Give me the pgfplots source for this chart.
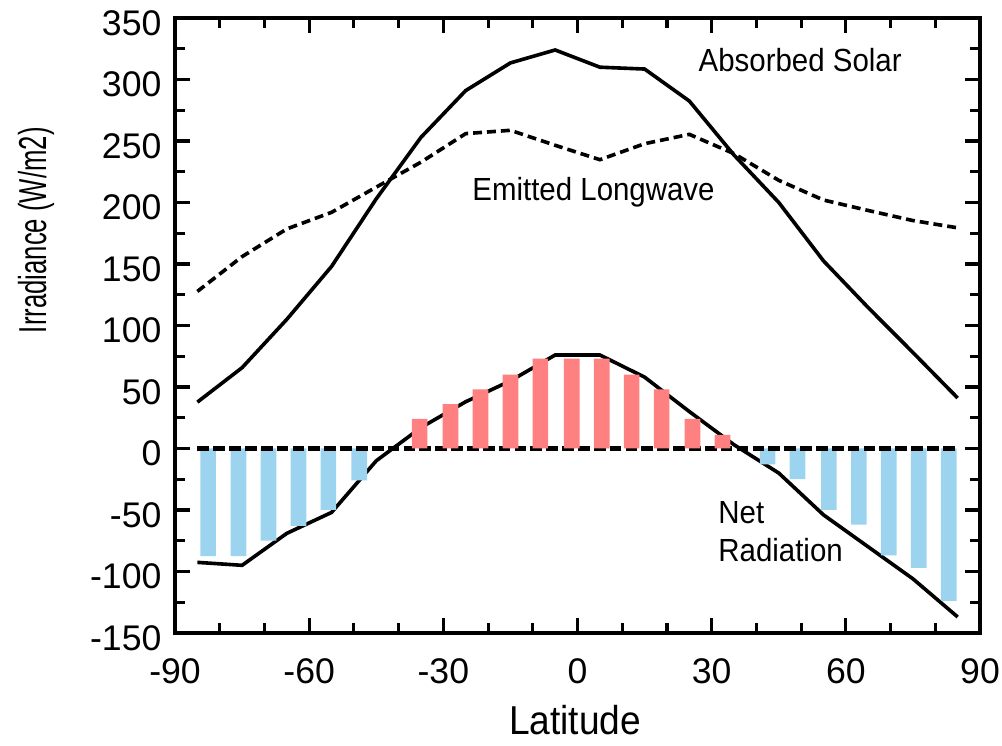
\documentclass[border=0pt]{standalone}
\usepackage{pgfplots}
\pgfplotsset{compat=1.18}
\usepackage{pgfplotstable}
\usepackage{fontspec}
\setmainfont{Liberation Sans}
\newfontfamily\condfont{Liberation Sans}[FakeStretch=0.92]
\newfontfamily\narrowfont{Liberation Sans}[FakeStretch=0.66]
\definecolor{netred}{HTML}{FF8080}
\definecolor{netblue}{HTML}{9CD4F0}

% zonal means, 10 degree bands
\pgfplotstableread{
lat solar lw net
-85 37.7 127.7 -92.6
-75 65.7 156.0 -95.0
-65 105.0 178.5 -69.0
-55 148.0 192.0 -52.0
-45 203.0 212.5 -10.0
-35 253.0 232.8 17.0
-25 291.0 256.0 38.0
-15 313.5 258.7 55.0
-5 324.0 246.5 76.0
5 310.0 234.8 76.0
15 308.5 247.8 58.0
25 282.5 255.4 30.0
35 238.5 239.7 3.0
45 200.0 218.0 -20.0
55 152.5 202.0 -54.0
65 114.5 193.5 -80.0
75 78.0 185.3 -106.0
85 41.0 179.4 -137.0
}\profiles

\pgfplotstableread{
lat val
-35.3 24
-28.4 36
-21.7 48
-15.0 60
-8.3 73
-1.3 73
5.4 73
12.1 60
18.8 48
25.7 24
32.4 11
}\surplus

\pgfplotstableread{
lat val
-82.6 -87.5
-75.8 -87.5
-69.1 -75
-62.4 -63
-55.7 -50
-48.8 -26
42.5 -13
49.2 -25
56.2 -50
62.9 -62
69.6 -87
76.3 -97
83.0 -124
}\deficit

\begin{document}
\begin{tikzpicture}
\begin{axis}[scale only axis,width=289.3pt,height=221pt,
 xmin=-90,xmax=90,ymin=-150,ymax=350,
 xtick={-90,-60,...,90},minor x tick num=2,
 ytick={-150,-100,...,350},minor y tick num=1,
 tick pos=both,tick align=inside,
 major tick length=5.4pt,minor tick length=3.6pt,
 every tick/.style={black,line width=1.1pt},
 axis line style={line width=1.4pt},
 /pgf/number format/assume math mode=true,
 tick label style={font=\fontsize{12.8}{15}\selectfont},
 xticklabel style={anchor=north,inner sep=0pt,yshift=-9pt},
 yticklabel style={anchor=east,inner sep=0pt,xshift=-4.7pt,yshift=-1.8pt},
 xlabel={Latitude},
 xlabel style={font=\condfont\fontsize{14.5}{17}\selectfont,at={(axis description cs:0.497,-0.142)},anchor=center},
 ylabel={Irradiance (W/m2)},
 ylabel style={font=\narrowfont\fontsize{14}{16}\selectfont,at={(axis description cs:-0.1727,0.655)},anchor=center,rotate=0},
 clip=false]
\path (rel axis cs:-0.2174,-0.1837) rectangle (rel axis cs:1.0273,1.0293);
\addplot[black,line width=1.3pt,sharp plot] table[x=lat,y=solar]{\profiles};
\addplot[black,line width=1.3pt,sharp plot,dash pattern=on 3.2pt off 1.8pt] table[x=lat,y=lw]{\profiles};
\addplot[black,line width=1.3pt,sharp plot] table[x=lat,y=net]{\profiles};
\addplot[ybar,bar width=3.5,bar shift=0pt,draw=none,fill=netblue] table[x=lat,y=val]{\deficit};
\addplot[black,line width=1.6pt,sharp plot,dash pattern=on 4.2pt off 1.5pt] coordinates {(-85,0) (85,0)};
\addplot[ybar,bar width=3.5,bar shift=0pt,draw=none,fill=netred] table[x=lat,y=val]{\surplus};
\node[font=\condfont\fontsize{11.5}{13}\selectfont,anchor=base west] at (axis cs:24.9,306.9) {Absorbed Solar};
\node[font=\condfont\fontsize{11.5}{13}\selectfont,anchor=base west] at (axis cs:-25.7,201.4) {Emitted Longwave};
\node[font=\condfont\fontsize{11.5}{13}\selectfont,anchor=base west] at (axis cs:29.3,-60.8) {Net};
\node[font=\condfont\fontsize{11.5}{13}\selectfont,anchor=base west] at (axis cs:29.3,-91.7) {Radiation};
\end{axis}
\end{tikzpicture}
\end{document}
